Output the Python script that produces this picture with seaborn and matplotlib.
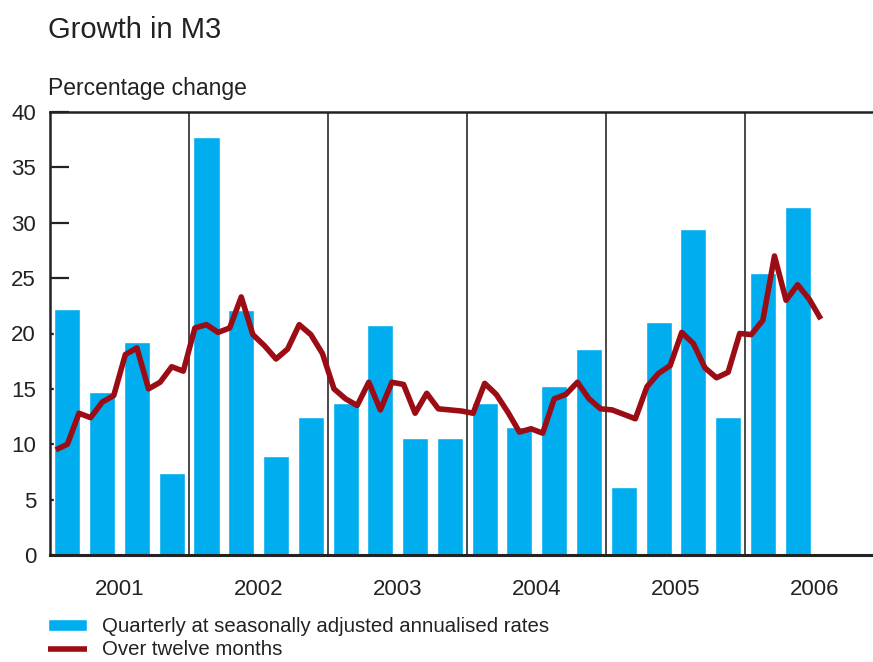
import numpy as np
import pandas as pd
import matplotlib
matplotlib.use("Agg")
import matplotlib.pyplot as plt
import seaborn as sns

# ---- data ----
years = ["2001", "2002", "2003", "2004", "2005", "2006"]
quarterly = [22.2, 14.7, 19.2, 7.4,
             37.7, 22.1, 8.9, 12.5,
             13.7, 20.8, 10.6, 10.6,
             13.7, 11.6, 15.3, 18.6,
             6.1, 21.0, 29.4, 12.5,
             25.5, 31.4]
twelve_month = [9.5, 10.0, 12.8, 12.4, 13.8, 14.4, 18.1, 18.7, 15.0, 15.6, 17.0, 16.6,
                20.5, 20.8, 20.1, 20.5, 23.3, 19.9, 18.9, 17.7, 18.6, 20.8, 19.9, 18.2,
                15.0, 14.1, 13.5, 15.6, 13.1, 15.6, 15.4, 12.8, 14.6, 13.2, 13.1, 13.0,
                12.8, 15.5, 14.5, 12.9, 11.1, 11.4, 11.0, 14.1, 14.5, 15.6, 14.1, 13.2,
                13.1, 12.7, 12.3, 15.2, 16.4, 17.1, 20.1, 19.1, 16.9, 16.0, 16.5, 20.0,
                19.9, 21.2, 27.0, 23.0, 24.4, 23.1, 21.3]
yticks = [0, 5, 10, 15, 20, 25, 30, 35, 40]

bar_label = "Quarterly at seasonally adjusted annualised rates"
line_label = "Over twelve months"

# positions in months from Jan 2001
quarter_pos = np.arange(len(quarterly)) * 3 + 1.5
month_pos = np.arange(len(twelve_month)) + 0.5
year_centers = np.arange(len(years)) * 12 + 6
year_bounds = np.arange(1, len(years)) * 12

bars_df = pd.DataFrame({"pos": quarter_pos, "value": quarterly})
line_df = pd.DataFrame({"pos": month_pos, "value": twelve_month})

sns.set_theme(style="ticks")
plt.rcParams["font.family"] = ["Liberation Sans", "DejaVu Sans"]

TXT = "#222222"
BLUE = "#00ADEF"
RED = "#9B0C14"

W, H = 873, 662
fig = plt.figure(figsize=(W / 100, H / 100), dpi=100)
ax = fig.add_axes([50 / W, 1 - 555 / H, 1 - 50 / W, (555 - 112) / H])

sns.barplot(data=bars_df, x="pos", y="value", native_scale=True, width=0.75,
            color=BLUE, saturation=1, ax=ax, label=bar_label, zorder=2)
for b in year_bounds:
    ax.axvline(b, color="#3a3a3a", lw=1.3, zorder=1.5)
sns.lineplot(data=line_df, x="pos", y="value", color=RED, linewidth=4,
             ax=ax, label=line_label, zorder=3, solid_capstyle="butt")

ax.set_xlim(0, 71)
ax.set_ylim(0, 40)
ax.set_yticks(yticks)
ax.set_yticklabels([str(t) for t in yticks])
ax.set_xticks(year_centers)
ax.set_xticklabels(years)
ax.set_xlabel("")
ax.set_ylabel("")

ax.tick_params(axis="y", direction="in", length=14, width=1.6, pad=10,
               labelsize=16, color=TXT, labelcolor=TXT, left=True)
ax.tick_params(axis="x", length=0, pad=17, labelsize=16, labelcolor=TXT)

for side in ["left", "top", "bottom"]:
    ax.spines[side].set_color(TXT)
ax.spines["left"].set_linewidth(1.8)
ax.spines["top"].set_linewidth(1.8)
ax.spines["bottom"].set_linewidth(2.2)
ax.spines["right"].set_visible(False)

handles, labels = ax.get_legend_handles_labels()
if ax.get_legend() is not None:
    ax.get_legend().remove()
order = [labels.index(bar_label), labels.index(line_label)]
handles = [handles[i] for i in order]
labels = [labels[i] for i in order]
fig.legend(handles, labels, loc="upper left",
           bbox_to_anchor=(48 / W, 1 - 617 / H), frameon=False,
           fontsize=14.7, borderpad=0, borderaxespad=0, handlelength=1.9,
           handleheight=0.55, handletextpad=0.75, labelspacing=0.22,
           labelcolor=TXT)

fig.text(48 / W, 1 - 30 / H, "Growth in M3", fontsize=21, color=TXT,
         ha="left", va="center")
fig.text(48 / W, 1 - 88 / H, "Percentage change", fontsize=16.5, color=TXT,
         ha="left", va="center")

fig.savefig("out.png", dpi=100)
